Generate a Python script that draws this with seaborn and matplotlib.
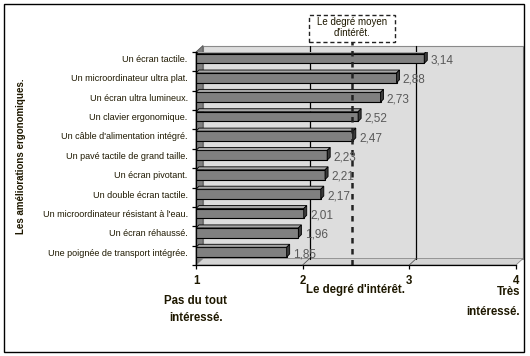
import matplotlib
matplotlib.use("Agg")
import matplotlib.pyplot as plt
import matplotlib.transforms as mtransforms
from matplotlib.patches import Rectangle, Polygon
from matplotlib.lines import Line2D
import seaborn as sns
import pandas as pd
import numpy as np

categories = [
    "Un écran tactile.",
    "Un microordinateur ultra plat.",
    "Un écran ultra lumineux.",
    "Un clavier ergonomique.",
    "Un câble d'alimentation intégré.",
    "Un pavé tactile de grand taille.",
    "Un écran pivotant.",
    "Un double écran tactile.",
    "Un microordinateur résistant à l'eau.",
    "Un écran réhaussé.",
    "Une poignée de transport intégrée.",
]
values = [3.14, 2.88, 2.73, 2.52, 2.47, 2.23, 2.21, 2.17, 2.01, 1.96, 1.85]
x_ticks = [1, 2, 3, 4]
x_tick_labels = ["1", "2", "3", "4"]
grid_values = [2, 3]
mean_interest = 2.46
y_title = "Les améliorations ergonomiques."
x_title = "Le degré d'intérêt."
low_label = ["Pas du tout", "intéressé."]
high_label = ["Très", "intéressé."]
mean_label = ["Le degré moyen", "d'intérêt."]

sns.set_theme(style="white")
plt.rcParams["font.family"] = ["Liberation Sans", "DejaVu Sans"]

W, H = 530, 356
DPI = 100
fig = plt.figure(figsize=(W / DPI, H / DPI), dpi=DPI)
fig.patch.set_facecolor("white")


def fx(x):
    return x / W


def fy(y):
    return 1 - y / H


TXT = "#1e1800"

# front plane of the plot area
ax = fig.add_axes([fx(196), fy(265), 320 / W, 213 / H])
ax.patch.set_visible(False)

df = pd.DataFrame({"cat": categories, "val": values})
sns.barplot(data=df, x="val", y="cat", orient="h", color="#808080",
            saturation=1, edgecolor="black", linewidth=0.8, width=0.5,
            ax=ax, zorder=3)

ax.set_xlim(1, 4)
ax.set_ylim(10.665, -0.335)

# 3D offset (back wall)
off = mtransforms.ScaledTranslation(7 / DPI, 6.5 / DPI, fig.dpi_scale_trans)
back = ax.transAxes + off
ax.add_patch(Rectangle((0, 0), 1, 1, transform=back, facecolor="#DDDDDD",
                       edgecolor="#8a8a8a", lw=0.8, zorder=0.1, clip_on=False))
# side wall and floor
side = [(196, 52), (203, 45.5), (203, 258.5), (196, 265)]
ax.add_patch(Polygon([(fx(a), fy(b)) for a, b in side], closed=True,
                     transform=fig.transFigure, facecolor="#7f7f7f",
                     edgecolor="#555555", lw=0.6, zorder=0.2, clip_on=False))
floor = [(196, 265), (203, 258.5), (523, 258.5), (516, 265)]
ax.add_patch(Polygon([(fx(a), fy(b)) for a, b in floor], closed=True,
                     transform=fig.transFigure, facecolor="#d4d4d4",
                     edgecolor="#8a8a8a", lw=0.6, zorder=0.2, clip_on=False))

# gridlines on back wall
blend = mtransforms.blended_transform_factory(ax.transData, ax.transAxes)
for g in grid_values:
    ax.plot([g, g], [0, 1], transform=blend + off, color="black", lw=0.9,
            zorder=0.5, clip_on=False)
    p0 = blend.transform((g, 0))
    p1 = (blend + off).transform((g, 0))
    fig.add_artist(Line2D([p0[0], p1[0]], [p0[1], p1[1]], transform=None,
                          color="#555555", lw=0.6))

# 3D faces of bars
fig.canvas.draw()
for p in ax.patches:
    if not hasattr(p, "get_width") or p.get_zorder() != 3:
        continue
    bb = p.get_window_extent()
    x0, x1, y0, y1 = bb.x0, bb.x1, bb.y0, bb.y1
    x0 = max(x0, ax.get_window_extent().x0)
    d = 3
    top = Polygon([(x0, y1), (x0 + d, y1 + d), (x1 + d, y1 + d), (x1, y1)],
                  closed=True, transform=None, facecolor="#a6a6a6",
                  edgecolor="black", lw=0.6, zorder=3.1)
    right = Polygon([(x1, y0), (x1 + d, y0 + d), (x1 + d, y1 + d), (x1, y1)],
                    closed=True, transform=None, facecolor="#3a3a3a",
                    edgecolor="black", lw=0.6, zorder=3.1)
    ax.add_artist(top)
    ax.add_artist(right)

# data labels
for i, v in enumerate(values):
    ax.annotate(f"{v:.2f}".replace(".", ","), xy=(v, i), xytext=(4.5, -1.5),
                textcoords="offset points", ha="left", va="center",
                fontsize=8.5, color="#595959", zorder=4, annotation_clip=False)

# mean line
ax.plot([mean_interest, mean_interest], [0, (265 - 42) / 213], transform=blend,
        color="#222222", lw=1.8, ls=(0, (2.2, 2.2)), zorder=3.5, clip_on=False)

# spines and ticks
for s in ["top", "right"]:
    ax.spines[s].set_visible(False)
for s in ["left", "bottom"]:
    ax.spines[s].set_visible(True)
    ax.spines[s].set_color("black")
    ax.spines[s].set_linewidth(0.9)
    ax.spines[s].set_zorder(5)

ax.set_xticks(x_ticks)
ax.set_xticklabels(x_tick_labels, fontsize=8.3, fontweight="bold", color=TXT)
ax.tick_params(axis="x", direction="out", length=3, width=0.9, color="black",
               pad=4.5, bottom=True)
ax.set_yticks(range(len(categories)))
ax.set_yticklabels(categories, fontsize=6.5, color=TXT)
ax.tick_params(axis="y", which="major", length=0, pad=6, left=False)
ax.set_yticks(np.arange(len(categories) + 1) - 0.335, minor=True)
ax.tick_params(axis="y", which="minor", direction="out", length=3, width=0.9,
               color="black", left=True)
ax.set_xlabel("")
ax.set_ylabel("")
ax.grid(False)

# axis titles
fig.text(fx(21), fy(156), y_title, rotation=90, ha="center", va="center",
         fontsize=7, fontweight="bold", color=TXT)
fig.text(fx(356), fy(289.5), x_title, ha="center", va="center", fontsize=8.3,
         fontweight="bold", color=TXT)
fig.text(fx(196), fy(300.5), low_label[0], ha="center", va="center",
         fontsize=8.3, fontweight="bold", color=TXT)
fig.text(fx(196), fy(318), low_label[1], ha="center", va="center",
         fontsize=8.3, fontweight="bold", color=TXT)
fig.text(fx(520), fy(292), high_label[0], ha="right", va="center",
         fontsize=8.3, fontweight="bold", color=TXT)
fig.text(fx(520), fy(312), high_label[1], ha="right", va="center",
         fontsize=8.3, fontweight="bold", color=TXT)

# mean box
fig.add_artist(Rectangle((fx(309), fy(42)), 86 / W, 27 / H,
                         transform=fig.transFigure, fill=False,
                         edgecolor="#222222", lw=1, ls=(0, (3, 2))))
fig.text(fx(352), fy(22.3), mean_label[0], ha="center", va="center",
         fontsize=7, color=TXT)
fig.text(fx(352), fy(32.5), mean_label[1], ha="center", va="center",
         fontsize=7, color=TXT)

# outer border
fig.add_artist(Rectangle((fx(4), fy(352)), 520 / W, 348 / H,
                         transform=fig.transFigure, fill=False,
                         edgecolor="black", lw=1))

fig.savefig("out.png", dpi=DPI)
